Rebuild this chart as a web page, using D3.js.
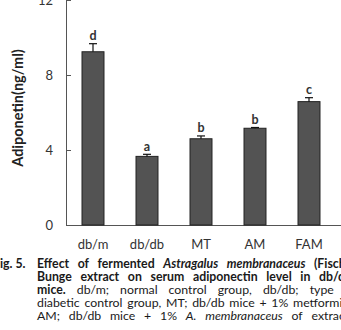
<!DOCTYPE html>
<html>
<head>
<meta charset="utf-8">
<script src="https://cdn.jsdelivr.net/npm/d3@7"></script>
<style>
  body { margin: 0; background: #fff; }
  svg { display: block; }
</style>
</head>
<body>
<svg id="chart" width="341" height="330"></svg>
<script>
const groups = ["db/m", "db/db", "MT", "AM", "FAM"];
const means = [9.24, 3.66, 4.6, 5.16, 6.58];
const errors = [0.43, 0.11, 0.15, 0.04, 0.21];
const letters = ["d", "a", "b", "b", "c"];
const yTicks = [0, 4, 8, 12];

// caption, word by word: [word, style] (b = bold, bi = bold italic, i = italic)
const captionLines = [
  [["Effect", "b"], ["of", "b"], ["fermented", "b"], ["Astragalus", "bi"], ["membranaceus", "bi"], ["(Fisch.)", "b"]],
  [["Bunge", "b"], ["extract", "b"], ["on", "b"], ["serum", "b"], ["adiponectin", "b"], ["level", "b"], ["in", "b"], ["db/db", "b"]],
  [["mice.", "b"], ["db/m;", ""], ["normal", ""], ["control", ""], ["group,", ""], ["db/db;", ""], ["type", ""], ["2", ""]],
  [["diabetic", ""], ["control", ""], ["group,", ""], ["MT;", ""], ["db/db", ""], ["mice", ""], ["+", ""], ["1%", ""], ["metformin,", ""]],
  [["AM;", ""], ["db/db", ""], ["mice", ""], ["+", ""], ["1%", ""], ["A.", "i"], ["membranaceus", "i"], ["of", ""], ["extract,", ""]]
];

const svg = d3.select("#chart");
const font = "Lato, 'Open Sans', sans-serif";

const x = d3.scaleBand()
  .domain(groups)
  .range([66, 336])
  .paddingInner(0.593)
  .paddingOuter(0.2965);

const y = d3.scaleLinear().domain([0, 12]).range([225, 0]);

// axes
svg.append("line")
  .attr("x1", 66.5).attr("x2", 66.5)
  .attr("y1", y(12)).attr("y2", y(0))
  .attr("stroke", "#555");
svg.append("line")
  .attr("x1", 66).attr("x2", 345)
  .attr("y1", y(0) + 0.5).attr("y2", y(0) + 0.5)
  .attr("stroke", "#555");

svg.selectAll(".ytick")
  .data(yTicks)
  .enter()
  .append("line")
  .attr("class", "ytick")
  .attr("x1", 66).attr("x2", 71)
  .attr("y1", d => Math.round(y(d)) + 0.5)
  .attr("y2", d => Math.round(y(d)) + 0.5)
  .attr("stroke", "#555");

svg.selectAll(".ylabel")
  .data(yTicks)
  .enter()
  .append("text")
  .attr("class", "ylabel")
  .attr("x", 53)
  .attr("y", d => y(d))
  .attr("dy", "0.36em")
  .attr("text-anchor", "end")
  .style("font-family", font)
  .style("font-size", "13px")
  .style("fill", "#333")
  .text(d => d);

svg.selectAll(".xlabel")
  .data(groups)
  .enter()
  .append("text")
  .attr("class", "xlabel")
  .attr("x", d => x(d) + x.bandwidth() / 2)
  .attr("y", 249)
  .attr("text-anchor", "middle")
  .style("font-family", font)
  .style("font-size", "13px")
  .style("fill", "#333")
  .text(d => d);

svg.append("text")
  .attr("transform", "translate(23,108) rotate(-90)")
  .attr("text-anchor", "middle")
  .style("font-family", font)
  .style("font-size", "14.5px")
  .style("font-weight", "bold")
  .style("fill", "#222")
  .text("Adiponetin(ng/ml)");

// bars
const data = groups.map((g, i) => ({ g, v: means[i], e: errors[i], l: letters[i] }));

svg.selectAll(".bar")
  .data(data)
  .enter()
  .append("rect")
  .attr("class", "bar")
  .attr("x", d => x(d.g))
  .attr("y", d => y(d.v))
  .attr("width", x.bandwidth())
  .attr("height", d => y(0) - y(d.v))
  .attr("fill", "#535353")
  .attr("stroke", "#222")
  .attr("stroke-width", 1);

const err = svg.selectAll(".err")
  .data(data)
  .enter()
  .append("g")
  .attr("class", "err")
  .attr("stroke", "#111")
  .attr("stroke-width", 1.2);
err.append("line")
  .attr("x1", d => x(d.g) + x.bandwidth() / 2)
  .attr("x2", d => x(d.g) + x.bandwidth() / 2)
  .attr("y1", d => y(d.v))
  .attr("y2", d => y(d.v + d.e));
err.append("line")
  .attr("x1", d => x(d.g) + x.bandwidth() / 2 - 4)
  .attr("x2", d => x(d.g) + x.bandwidth() / 2 + 4)
  .attr("y1", d => y(d.v + d.e))
  .attr("y2", d => y(d.v + d.e));

svg.selectAll(".sig")
  .data(data)
  .enter()
  .append("text")
  .attr("class", "sig")
  .attr("x", d => x(d.g) + x.bandwidth() / 2)
  .attr("y", d => y(d.v + d.e) - 3.5)
  .attr("text-anchor", "middle")
  .style("font-family", font)
  .style("font-size", "12.5px")
  .style("font-weight", "bold")
  .style("fill", "#333")
  .text(d => d.l);

// caption
const capLeft = 37;
const capRight = 352;
const capTop = 267.5;
const capStep = 13.1;

const styleWord = (sel, s) => sel
  .style("font-family", font)
  .style("font-size", "12.3px")
  .style("fill", "#1a1a1a")
  .style("font-weight", s.includes("b") ? "bold" : "normal")
  .style("font-style", s.includes("i") ? "italic" : "normal");

svg.append("text")
  .attr("x", -7)
  .attr("y", capTop)
  .call(styleWord, "b")
  .text("Fig. 5.");

captionLines.forEach((words, li) => {
  const g = svg.append("g");
  const nodes = words.map(([w, s]) =>
    g.append("text").attr("y", capTop + li * capStep).call(styleWord, s).text(w)
  );
  const widths = nodes.map(n => n.node().getComputedTextLength());
  const total = d3.sum(widths);
  const gap = Math.max(3, (capRight - capLeft - total) / (words.length - 1));
  let cx = capLeft;
  nodes.forEach((n, i) => {
    n.attr("x", cx);
    cx += widths[i] + gap;
  });
});
</script>
</body>
</html>
